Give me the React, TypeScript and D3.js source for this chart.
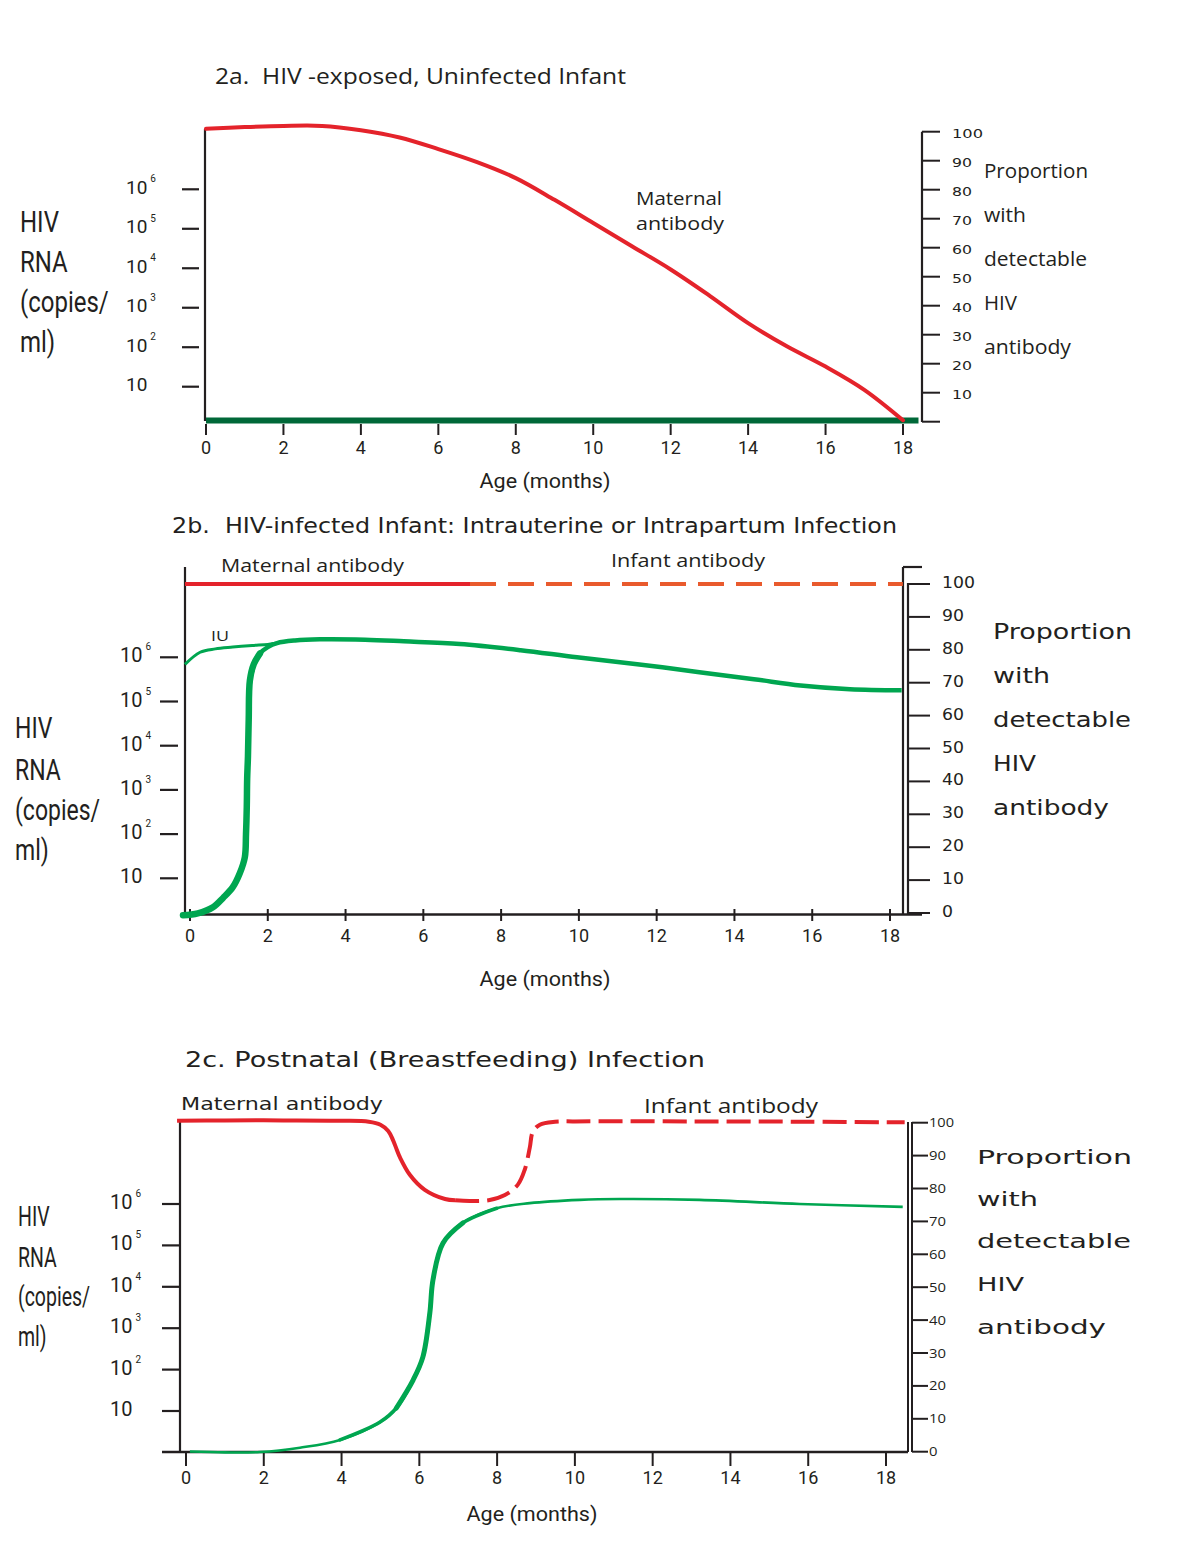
import React from "react";
import * as d3 from "d3";

// ---------- shared ----------
const MONTH_TICKS = [0, 2, 4, 6, 8, 10, 12, 14, 16, 18];
const PCT_TICKS = [0, 10, 20, 30, 40, 50, 60, 70, 80, 90, 100];
const RNA_TICKS = [10, 100, 1000, 10000, 100000, 1000000];
const RIGHT_LABEL = ["Proportion", "with", "detectable", "HIV", "antibody"];
const LEFT_LABEL = ["HIV", "RNA", "(copies/", "ml)"];
const X_TITLE = "Age (months)";

// ---------- 2a ----------
const A_TITLE = "2a.  HIV -exposed, Uninfected Infant";
const A_NOTE = ["Maternal", "antibody"];
const A_AB_MONTHS = [0, 1, 2, 3, 4, 5, 6, 7, 8, 9, 10, 11, 12, 13, 14, 15, 16, 17, 18];
const A_AB_PCT = [101, 101.6, 102, 102, 100.5, 98, 94, 89.5, 84, 76.5, 68.5, 60.5, 52.5, 43.5, 34, 26, 19, 11, 0.5];
const A_RNA_MONTHS = [0, 18.4];
const A_RNA_COPIES = [1.4, 1.4];

// ---------- 2b ----------
const B_TITLE = "2b.  HIV-infected Infant: Intrauterine or Intrapartum Infection";
const B_MAT_LABEL = "Maternal antibody";
const B_INF_LABEL = "Infant antibody";
const B_IU_LABEL = "IU";
const B_MAT_MONTHS = [-0.13, 7.2];
const B_MAT_PCT = [100, 100];
const B_INF_MONTHS = [7.2, 18.33];
const B_INF_PCT = [100, 100];
const B_RNA_MONTHS = [-0.18, 0.2, 0.59, 0.85, 1.1, 1.28, 1.41, 1.44, 1.46, 1.47, 1.49, 1.51, 1.54, 1.64, 1.8, 2.0, 2.24, 2.7, 3.34, 4.5, 5.5, 6.94, 8.5, 9.95, 11.5, 13.1, 14.5, 15.7, 16.97, 18.3];
const B_RNA_COPIES = [1.45, 1.6, 2.2, 3.6, 6.3, 13, 30, 100, 410, 1800, 5600, 40000, 3e5, 7e5, 1.23e6, 1.7e6, 2.1e6, 2.4e6, 2.55e6, 2.5e6, 2.3e6, 2e6, 1.45e6, 1e6, 7e5, 4.6e5, 3.2e5, 2.3e5, 1.9e5, 1.8e5];
const B_IU_MONTHS = [-0.13, 0.26, 0.65, 1.1, 1.6, 2.0, 2.24];
const B_IU_COPIES = [6.9e5, 1.3e6, 1.55e6, 1.7e6, 1.85e6, 1.95e6, 2.1e6];

// ---------- 2c ----------
const C_TITLE = "2c. Postnatal (Breastfeeding) Infection";
const C_MAT_LABEL = "Maternal antibody";
const C_INF_LABEL = "Infant antibody";
const C_MAT_MONTHS = [-0.23, 1, 2.5, 4, 4.7, 5.0, 5.2, 5.32, 5.42, 5.5, 5.76, 6.14, 6.66, 6.92];
const C_MAT_PCT = [100.6, 100.7, 100.7, 100.6, 100.3, 99.4, 97.5, 94.8, 91.8, 89.5, 84.1, 79.6, 76.8, 76.4];
const C_INF_MONTHS = [6.92, 7.3, 7.81, 8.2, 8.53, 8.71, 8.84, 8.92, 9.1, 9.49, 10.0, 13, 16, 18.48];
const C_INF_PCT = [76.4, 76.2, 76.5, 78, 81.1, 85.7, 92.4, 97.3, 99.4, 100.3, 100.4, 100.4, 100.3, 100.1];
const C_RNA_MONTHS = [0.1, 1.0, 1.9, 2.93, 3.96, 4.99, 5.41, 5.84, 6.09, 6.27, 6.35, 6.61, 7.12, 7.99, 8.84, 10.13, 11.16, 13.21, 15.78, 18.43];
const C_RNA_COPIES = [1.05, 1.0, 1.02, 1.3, 2.0, 5.4, 11.8, 56, 200, 2350, 14500, 1.15e5, 3.5e5, 7.9e5, 1.05e6, 1.26e6, 1.32e6, 1.26e6, 1e6, 8.5e5];

const INK = "#231f20";
const RED = "#e4232b";
const ORANGE = "#e95a2d";
const GREEN = "#00a650";
const DKGREEN = "#006838";
const HUM = "'Open Sans', 'Noto Sans', sans-serif";
const GEO = "'DejaVu Sans', sans-serif";
const COND = "Roboto, 'Liberation Sans', sans-serif";

type Sc = (v: number) => number;

function curvePath(xs: number[], ys: number[], x: Sc, y: Sc): string {
  const idx = xs.map((_, i) => i);
  return (
    d3
      .line<number>()
      .x((i) => x(xs[i]))
      .y((i) => y(ys[i]))
      .curve(d3.curveCatmullRom.alpha(0.5))(idx) || ""
  );
}

function Txt(props: {
  x: number;
  y: number;
  size: number;
  family: string;
  w?: number;
  anchor?: string;
  children: React.ReactNode;
}) {
  const { x, y, size, family, w, anchor, children } = props;
  return (
    <text
      x={x}
      y={y}
      fontSize={size}
      fontFamily={family}
      fill={INK}
      dominantBaseline="central"
      textAnchor={anchor || "start"}
      textLength={w}
      lengthAdjust={w ? "spacingAndGlyphs" : undefined}
      style={{ whiteSpace: "pre" }}
    >
      {children}
    </text>
  );
}

function Stack(props: { x: number; ys: number[]; ws: number[]; lines: string[]; size: number; family: string }) {
  return (
    <g>
      {props.lines.map((l, i) => (
        <Txt key={i} x={props.x} y={props.ys[i]} w={props.ws[i]} size={props.size} family={props.family}>
          {l}
        </Txt>
      ))}
    </g>
  );
}

// condensed stacked label: narrow font size, stretched vertically
function CondStack(props: { x: number; ys: number[]; lines: string[]; size: number; k: number }) {
  return (
    <g>
      {props.lines.map((l, i) => (
        <text
          key={i}
          transform={`translate(${props.x},${props.ys[i]}) scale(1,${props.k})`}
          fontSize={props.size}
          fontFamily={COND}
          fill={INK}
          dominantBaseline="central"
        >
          {l}
        </text>
      ))}
    </g>
  );
}

function LogTicks(props: { y: Sc; x1: number; x2: number; lx: number; size: number; sup: number }) {
  const { y, x1, x2, lx, size, sup } = props;
  return (
    <g>
      {RNA_TICKS.map((v) => {
        const e = Math.round(Math.log10(v));
        return (
          <g key={v}>
            <line x1={x1} x2={x2} y1={y(v)} y2={y(v)} stroke={INK} strokeWidth={2.2} />
            <text x={lx} y={y(v) - 2} fontSize={size} fontFamily={COND} fill={INK} dominantBaseline="central">
              10
              {e > 1 ? (
                <tspan dx={3} dy={-9} fontSize={sup}>
                  {String(e)}
                </tspan>
              ) : null}
            </text>
          </g>
        );
      })}
    </g>
  );
}

function MonthTicks(props: { x: Sc; y1: number; y2: number; ly: number; size: number }) {
  const { x, y1, y2, ly, size } = props;
  return (
    <g>
      {MONTH_TICKS.map((m) => (
        <g key={m}>
          <line x1={x(m)} x2={x(m)} y1={y1} y2={y2} stroke={INK} strokeWidth={2} />
          <Txt x={x(m)} y={ly} size={size} family={COND} anchor="middle">
            {String(m)}
          </Txt>
        </g>
      ))}
    </g>
  );
}

function PctTicks(props: {
  y: Sc;
  x1: number;
  x2: number;
  lx: number;
  size: number;
  family: string;
  w2: number;
  w3: number;
  skipZero?: boolean;
  dy?: number;
}) {
  const { y, x1, x2, lx, size, family, w2, w3, skipZero, dy } = props;
  return (
    <g>
      {PCT_TICKS.map((p) => (
        <g key={p}>
          <line x1={x1} x2={x2} y1={y(p)} y2={y(p)} stroke={INK} strokeWidth={2} />
          {skipZero && p === 0 ? null : (
            <Txt
              x={lx}
              y={y(p) + (dy || 0)}
              size={size}
              family={family}
              w={p === 100 ? w3 : p === 0 ? w2 / 2 : w2}
            >
              {String(p)}
            </Txt>
          )}
        </g>
      ))}
    </g>
  );
}

export default function App() {
  // ---- scales 2a ----
  const xA = d3.scaleLinear().domain([0, 18]).range([206, 903]);
  const pA = d3.scaleLinear().domain([0, 100]).range([421.7, 131.7]);
  const rA = d3.scaleLog().domain([10, 1e6]).range([386.7, 189.3]);
  // ---- scales 2b ----
  const xB = d3.scaleLinear().domain([0, 18]).range([190, 890]);
  const pB = d3.scaleLinear().domain([0, 100]).range([913, 584]);
  const rB = d3.scaleLog().domain([10, 1e6]).range([878.3, 657.3]);
  // ---- scales 2c ----
  const xC = d3.scaleLinear().domain([0, 18]).range([186, 886]);
  const pC = d3.scaleLinear().domain([0, 100]).range([1451.7, 1122.7]);
  const rC = d3.scaleLog().domain([10, 1e6]).range([1411, 1204]);

  const bRise = 15;
  const cMid0 = 4;
  const cMid1 = 14;
  const cThick0 = 6;
  const cThick1 = 13;

  return (
    <svg
      width={1200}
      height={1553}
      style={{ position: "absolute", left: 0, top: 0, display: "block", background: "#fff" }}
    >
      <rect x={0} y={0} width={1200} height={1553} fill="#fff" />

      {/* ================= 2a ================= */}
      <Txt x={215} y={75} size={22} family={HUM} w={411}>
        {A_TITLE}
      </Txt>
      <CondStack x={20} ys={[222, 262, 302, 342]} lines={LEFT_LABEL} size={24} k={1.25} />
      <LogTicks y={rA} x1={182} x2={199} lx={126} size={19} sup={10} />
      <line x1={205} x2={205} y1={129} y2={421} stroke={INK} strokeWidth={2.2} />
      <line x1={922} x2={922} y1={131.7} y2={422} stroke={INK} strokeWidth={2.2} />
      <PctTicks y={pA} x1={922} x2={940} lx={952} size={12} family={GEO} w2={20} w3={31} skipZero dy={2} />
      <MonthTicks x={xA} y1={424} y2={435} ly={447} size={18} />
      <path d={curvePath(A_RNA_MONTHS, A_RNA_COPIES, xA, rA)} fill="none" stroke={DKGREEN} strokeWidth={6} />
      <path d={curvePath(A_AB_MONTHS, A_AB_PCT, xA, pA)} fill="none" stroke={RED} strokeWidth={4} strokeLinecap="round" />
      <Stack x={636} ys={[198, 223]} ws={[86, 88]} lines={A_NOTE} size={19} family={HUM} />
      <Stack x={984} ys={[170, 214, 258, 302, 346]} ws={[104, 42, 103, 33, 87]} lines={RIGHT_LABEL} size={20} family={HUM} />
      <Txt x={545} y={481} size={21} family={COND} w={131} anchor="middle">
        {X_TITLE}
      </Txt>

      {/* ================= 2b ================= */}
      <Txt x={172} y={525} size={22} family={GEO} w={725}>
        {B_TITLE}
      </Txt>
      <CondStack x={15} ys={[728, 770, 810, 850]} lines={LEFT_LABEL} size={23} k={1.26} />
      <LogTicks y={rB} x1={160} x2={178} lx={120} size={20} sup={10} />
      <line x1={185} x2={185} y1={567} y2={915} stroke={INK} strokeWidth={2.2} />
      <line x1={185} x2={922} y1={914.5} y2={914.5} stroke={INK} strokeWidth={2.4} />
      <line x1={903} x2={903} y1={567} y2={915} stroke={INK} strokeWidth={2.2} />
      <line x1={903} x2={922} y1={567} y2={567} stroke={INK} strokeWidth={2.2} />
      <line x1={908} x2={908} y1={583} y2={914} stroke={INK} strokeWidth={2.2} />
      <PctTicks y={pB} x1={908} x2={930} lx={942} size={15} family={GEO} w2={22} w3={33} dy={-1} />
      <MonthTicks x={xB} y1={909} y2={921} ly={935} size={18} />
      <path d={curvePath(B_MAT_MONTHS, B_MAT_PCT, xB, pB)} fill="none" stroke={RED} strokeWidth={4} />
      <path
        d={curvePath(B_INF_MONTHS, B_INF_PCT, xB, pB)}
        fill="none"
        stroke={ORANGE}
        strokeWidth={4}
        strokeDasharray="26 12"
      />
      <path d={curvePath(B_IU_MONTHS, B_IU_COPIES, xB, rB)} fill="none" stroke={GREEN} strokeWidth={3} />
      <path d={curvePath(B_RNA_MONTHS, B_RNA_COPIES, xB, rB)} fill="none" stroke={GREEN} strokeWidth={4.5} />
      <path
        d={curvePath(B_RNA_MONTHS.slice(0, bRise), B_RNA_COPIES.slice(0, bRise), xB, rB)}
        fill="none"
        stroke={GREEN}
        strokeWidth={6.5}
        strokeLinecap="round"
      />
      <Txt x={221} y={565} size={19} family={HUM} w={183}>
        {B_MAT_LABEL}
      </Txt>
      <Txt x={611} y={560} size={19} family={HUM} w={154}>
        {B_INF_LABEL}
      </Txt>
      <Txt x={211} y={635} size={15} family={HUM} w={18}>
        {B_IU_LABEL}
      </Txt>
      <Stack
        x={993}
        ys={[632, 676, 720, 764, 808]}
        ws={[139, 57, 138, 43, 116]}
        lines={RIGHT_LABEL}
        size={21}
        family={GEO}
      />
      <Txt x={545} y={979} size={21} family={COND} w={131} anchor="middle">
        {X_TITLE}
      </Txt>

      {/* ================= 2c ================= */}
      <Txt x={185} y={1059} size={22} family={GEO} w={520}>
        {C_TITLE}
      </Txt>
      <CondStack x={18} ys={[1217, 1258, 1297, 1337]} lines={LEFT_LABEL} size={19.5} k={1.43} />
      <LogTicks y={rC} x1={162} x2={180} lx={110} size={20} sup={10} />
      <line x1={180} x2={180} y1={1120} y2={1452} stroke={INK} strokeWidth={2.2} />
      <line x1={162} x2={908} y1={1452} y2={1452} stroke={INK} strokeWidth={2.4} />
      <line x1={908} x2={908} y1={1122} y2={1452} stroke={INK} strokeWidth={2} />
      <line x1={912} x2={912} y1={1122} y2={1452} stroke={INK} strokeWidth={2} />
      <PctTicks y={pC} x1={912} x2={928} lx={929} size={12} family={HUM} w2={17} w3={25} />
      <MonthTicks x={xC} y1={1452} y2={1466} ly={1477} size={18} />
      <path d={curvePath(C_MAT_MONTHS, C_MAT_PCT, xC, pC)} fill="none" stroke={RED} strokeWidth={4} />
      <path
        d={curvePath(C_INF_MONTHS, C_INF_PCT, xC, pC)}
        fill="none"
        stroke={RED}
        strokeWidth={4}
        strokeDasharray="24 8"
      />
      <path d={curvePath(C_RNA_MONTHS, C_RNA_COPIES, xC, rC)} fill="none" stroke={GREEN} strokeWidth={2.6} />
      <path
        d={curvePath(C_RNA_MONTHS.slice(cMid0, cMid1), C_RNA_COPIES.slice(cMid0, cMid1), xC, rC)}
        fill="none"
        stroke={GREEN}
        strokeWidth={3.6}
        strokeLinecap="round"
      />
      <path
        d={curvePath(C_RNA_MONTHS.slice(cThick0, cThick1), C_RNA_COPIES.slice(cThick0, cThick1), xC, rC)}
        fill="none"
        stroke={GREEN}
        strokeWidth={5}
        strokeLinecap="round"
      />
      <Txt x={181} y={1103} size={18} family={GEO} w={202}>
        {C_MAT_LABEL}
      </Txt>
      <Txt x={644} y={1105} size={20} family={HUM} w={174}>
        {C_INF_LABEL}
      </Txt>
      <Stack
        x={977}
        ys={[1157, 1199, 1241, 1284, 1327]}
        ws={[155, 61, 154, 47, 129]}
        lines={RIGHT_LABEL}
        size={20}
        family={GEO}
      />
      <Txt x={532} y={1514} size={21} family={COND} w={131} anchor="middle">
        {X_TITLE}
      </Txt>
    </svg>
  );
}
